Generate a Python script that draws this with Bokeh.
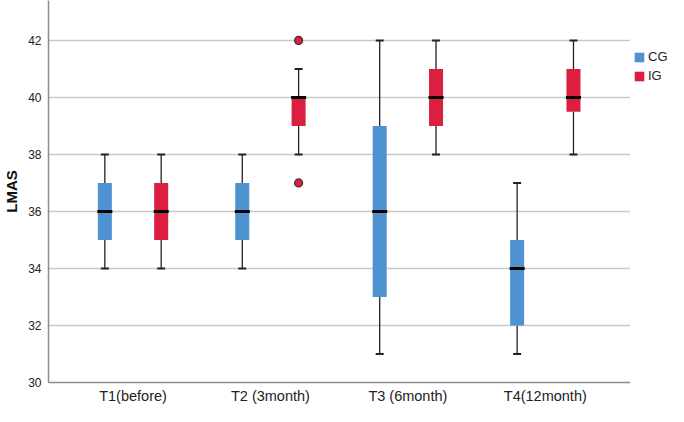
from bokeh.plotting import figure
from bokeh.layouts import row
from bokeh.models import ColumnDataSource, Legend, LegendItem, FixedTicker, Range1d
from bokeh.embed import file_html
from bokeh.resources import INLINE

categories = ["T1(before)", "T2 (3month)", "T3 (6month)", "T4(12month)"]
groups = ["CG", "IG"]

cg_low = [34, 34, 31, 31]
cg_q1 = [35, 35, 33, 32]
cg_med = [36, 36, 36, 34]
cg_q3 = [37, 37, 39, 35]
cg_high = [38, 38, 42, 37]

ig_low = [34, 38, 38, 38]
ig_q1 = [35, 39, 39, 39.5]
ig_med = [36, 40, 40, 40]
ig_q3 = [37, 40, 41, 41]
ig_high = [38, 41, 42, 42]

ig_outlier_cat = [1, 1]
ig_outlier_val = [42, 37]

y_ticks = [30, 32, 34, 36, 38, 40, 42]

colors = {"CG": "#4f92d1", "IG": "#dc1e40"}
offset = 0.205
pos = [i + 1 for i in range(len(categories))]

FONT = "Liberation Sans"
H = 406

p = figure(width=630, height=H, output_backend="svg", toolbar_location=None,
           x_range=Range1d(0.385, 4.62), y_range=Range1d(30, 43.4),
           min_border_left=48, min_border_top=0, min_border_bottom=20, min_border_right=0)
p.outline_line_color = None
p.background_fill_color = "white"
p.border_fill_color = "white"

p.xgrid.visible = False
p.ygrid.ticker = FixedTicker(ticks=y_ticks)
p.ygrid.grid_line_color = "#c9c9c9"
p.ygrid.grid_line_width = 1.5

p.yaxis.ticker = FixedTicker(ticks=y_ticks)
p.xaxis.ticker = FixedTicker(ticks=pos)
p.xaxis.major_label_overrides = {x: c for x, c in zip(pos, categories)}
for ax in (p.xaxis, p.yaxis):
    ax.major_tick_line_color = None
    ax.minor_tick_line_color = None
    ax.major_tick_out = 0
    ax.major_tick_in = 0
    ax.axis_line_color = "#8c8c8c"
    ax.axis_line_width = 1.5
    ax.major_label_text_font = FONT
    ax.major_label_text_color = "#222222"
p.yaxis.major_label_text_font_size = "12px"
p.yaxis.major_label_standoff = 7
p.xaxis.major_label_text_font_size = "14.5px"
p.xaxis.major_label_standoff = 5
p.yaxis.axis_label = "LMAS"
p.yaxis.axis_label_text_font = FONT
p.yaxis.axis_label_text_font_style = "bold"
p.yaxis.axis_label_text_font_size = "15px"
p.yaxis.axis_label_text_color = "#111111"
p.yaxis.axis_label_standoff = 5

for g, sign, lo, q1, md, q3, hi in [("CG", -1, cg_low, cg_q1, cg_med, cg_q3, cg_high),
                                     ("IG", 1, ig_low, ig_q1, ig_med, ig_q3, ig_high)]:
    xs = [x + sign * offset for x in pos]
    src = ColumnDataSource(dict(x=xs, lo=lo, q1=q1, md=md, q3=q3, hi=hi))
    p.segment(x0="x", y0="q3", x1="x", y1="hi", source=src, line_color="#222222", line_width=1.3)
    p.segment(x0="x", y0="lo", x1="x", y1="q1", source=src, line_color="#222222", line_width=1.3)
    p.rect(x="x", y="hi", width=8, height=2, width_units="screen", height_units="screen",
           source=src, fill_color="#222222", line_color=None)
    p.rect(x="x", y="lo", width=8, height=2, width_units="screen", height_units="screen",
           source=src, fill_color="#222222", line_color=None)
    p.vbar(x="x", bottom="q1", top="q3", width=0.102, source=src,
           fill_color=colors[g], line_color=None)
    p.rect(x="x", y="md", width=15, height=3, width_units="screen", height_units="screen",
           source=src, fill_color="#000000", line_color=None)

out_src = ColumnDataSource(dict(x=[pos[i] + offset for i in ig_outlier_cat], y=ig_outlier_val))
p.scatter(x="x", y="y", source=out_src, size=8, fill_color=colors["IG"], line_color="#333333", line_width=1.2)

# legend panel (swatch glyphs kept outside its visible range; only the legend shows)
lp = figure(width=38, height=H, output_backend="svg", toolbar_location=None,
            x_range=Range1d(0, 1), y_range=Range1d(0, 1), min_border=0)
lp.axis.visible = False
lp.grid.visible = False
lp.outline_line_color = None
lp.background_fill_color = "white"
lp.border_fill_color = "white"
items = []
for g in groups:
    r = lp.vbar(x=[-5], bottom=[-5], top=[-4], width=0.1, fill_color=colors[g], line_color=None)
    items.append(LegendItem(label=g, renderers=[r]))
legend = Legend(items=items, location=(3, H - 51 - 28 - 28))
legend.glyph_width = 12
legend.glyph_height = 12
legend.spacing = 4
legend.padding = 0
legend.margin = 0
legend.label_standoff = 3
legend.label_text_font = FONT
legend.label_text_font_size = "13px"
legend.label_text_color = "#222222"
legend.label_height = 12
legend.border_line_color = None
legend.background_fill_alpha = 0
lp.add_layout(legend)

layout = row(p, lp, spacing=0)
open("out.html", "w").write(file_html(layout, INLINE))
